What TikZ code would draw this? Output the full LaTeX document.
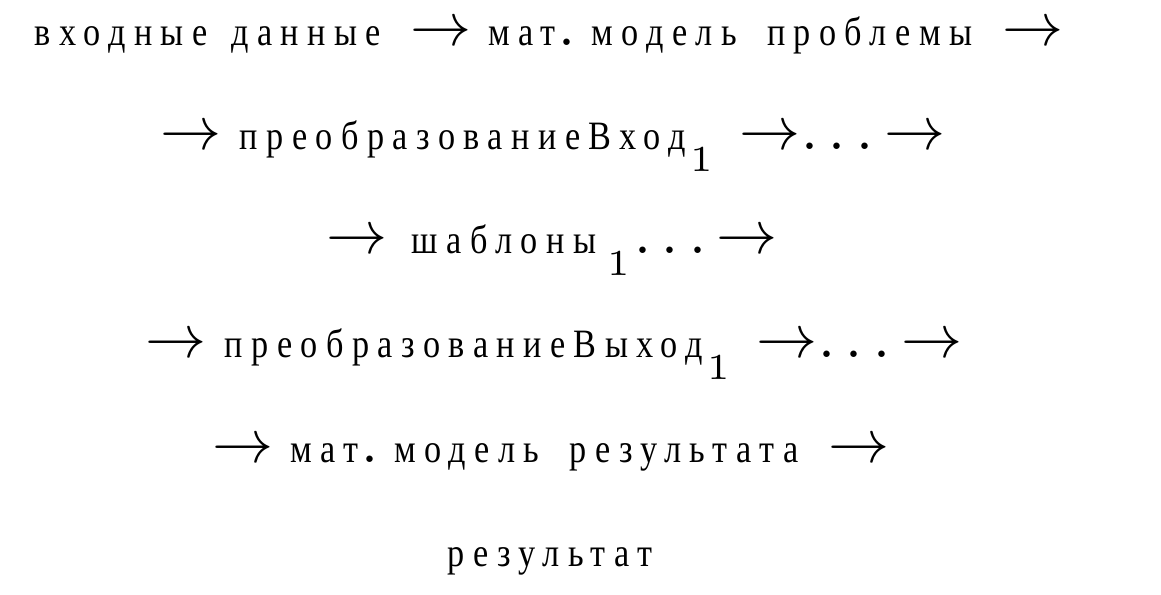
\documentclass[tikz,border=0pt]{standalone}
\usepackage{fontspec}
\newfontfamily\cyrfont[LetterSpace=21,FakeStretch=0.85]{Liberation Serif}
\newdimen\pxu \pxu=0.16393pt
\newcommand{\cy}[1]{{\cyrfont\fontsize{6.6}{8}\selectfont #1}}
\newcommand{\arw}{$\rightarrow$}
\newcommand{\kx}[1]{\kern#1\pxu}
\newcommand{\sbone}{\raisebox{-22\pxu}{\fontsize{6}{7}\selectfont 1}}
\newcommand{\dotsx}{.\kx{10.5}.\kx{10.5}.}
\tikzset{
  textline/.style={inner sep=0pt, outer sep=0pt, anchor=base, font=\fontsize{10}{12}\selectfont},
}
\begin{document}
\begin{tikzpicture}[x=0.16393pt, y=-0.16393pt]
\useasboundingbox (0,0) rectangle (1161,595);
\node[textline] (l1) at (549,46)
  {\cy{входные}\kx{24}\cy{данные}\kx{29}\arw\kx{17}\cy{мат}\kx{3}.\kx{16}\cy{модель}\kx{30}\cy{проблемы}\kx{30}\arw};
\node[textline] (l2) at (553,150)
  {\arw\kx{18}\cy{преобразованиеВход}\kx{5}\sbone\kx{26}\arw\kx{1}\dotsx\kx{11}\arw};
\node[textline] (l3) at (552,254)
  {\arw\kx{24}\cy{шаблоны}\kx{11}\sbone\kx{5}\dotsx\kx{10}\arw};
\node[textline] (l4) at (554,358)
  {\arw\kx{18}\cy{преобразованиеВыход}\kx{5}\sbone\kx{26}\arw\kx{1}\dotsx\kx{11}\arw};
\node[textline] (l5) at (551,463)
  {\arw\kx{17}\cy{мат}\kx{3}.\kx{16}\cy{модель}\kx{30}\cy{результата}\kx{30}\arw};
\node[textline] (l6) at (550,567) {\cy{результат}};
\end{tikzpicture}
\end{document}
